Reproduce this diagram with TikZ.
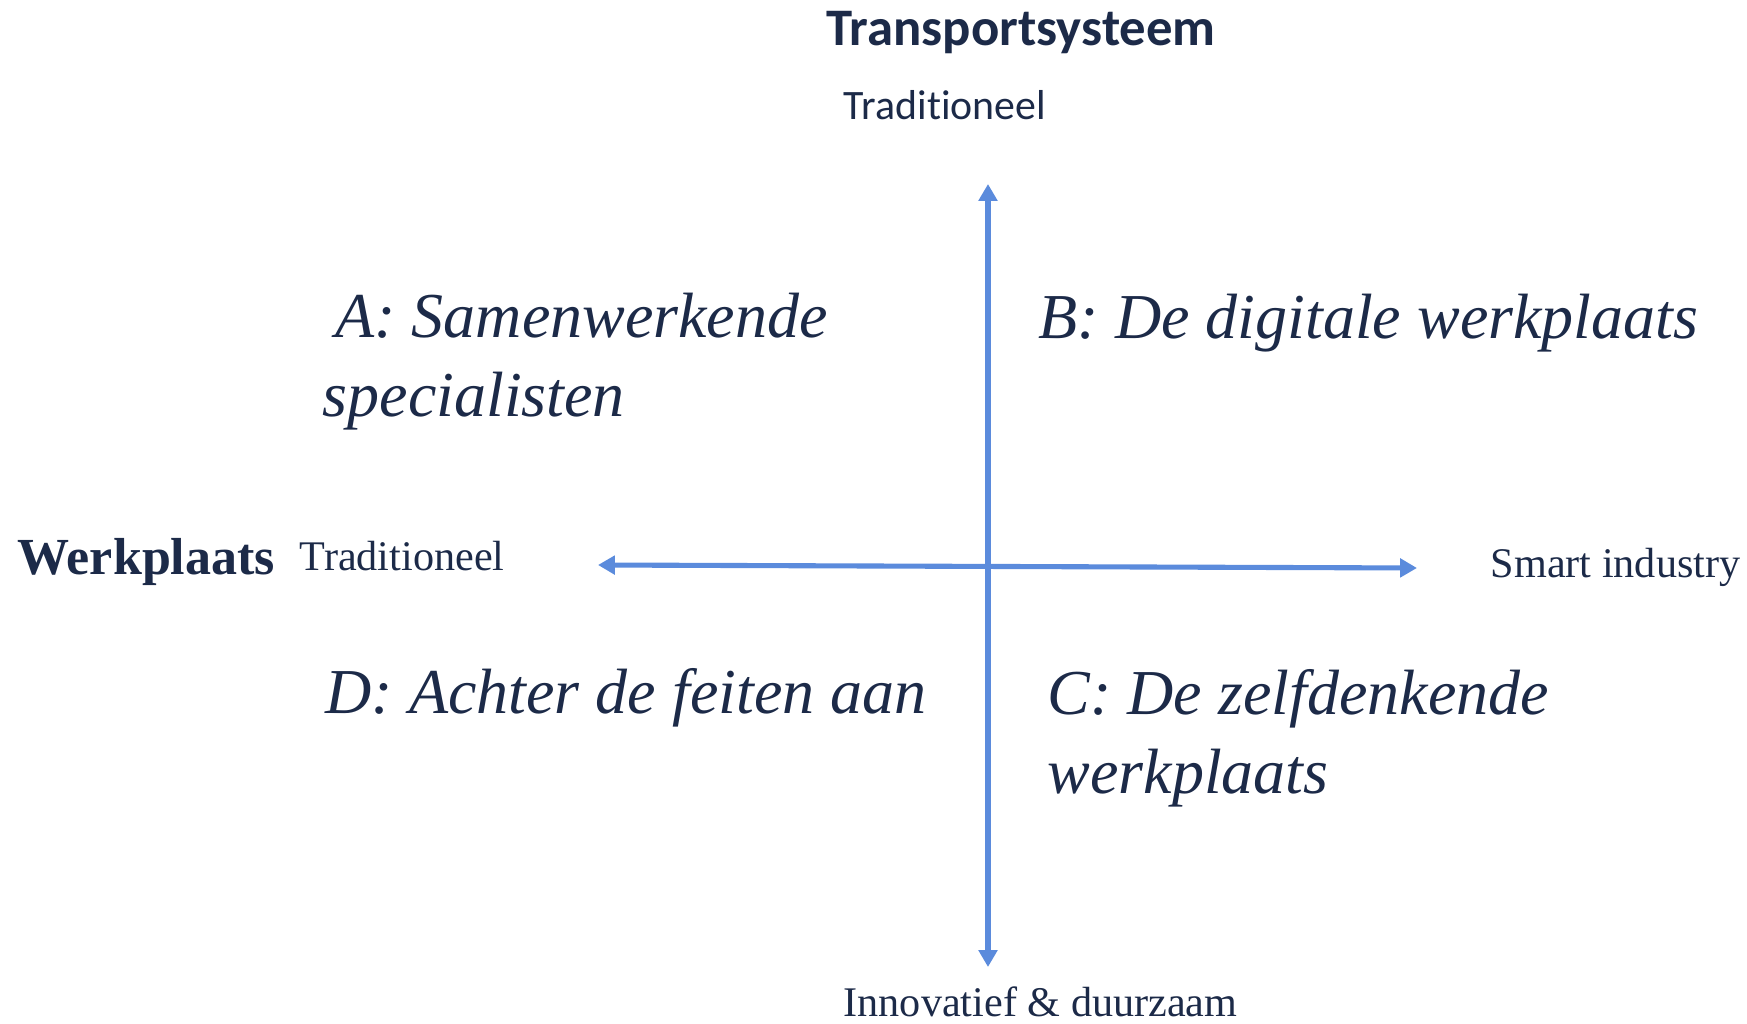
\documentclass[tikz,border=0pt]{standalone}
\usepackage{fontspec}
\setmainfont{Liberation Serif}
\setsansfont{Carlito}[Ligatures=NoCommon]
\usepackage{xcolor}
\usepackage{tikz}
\usetikzlibrary{arrows.meta}
\usetikzlibrary{positioning}
\definecolor{navy}{HTML}{1C2A48}
\definecolor{axisblue}{HTML}{5B8BDC}
\tikzset{
    axislabel/.style = {inner sep=0pt, text=navy, font=\fontsize{12}{14}\selectfont},
    axistitle/.style = {inner sep=0pt, text=navy, font=\bfseries\fontsize{14.8}{17}\selectfont},
    quadrant/.style = {inner sep=0pt, text=navy, align=left, font=\itshape\fontsize{18.2}{22.2}\selectfont},
}

\begin{document}
\begin{tikzpicture}[
	x=0.01cm,
	y=-0.01cm
]
\tikzset{
    axis/.style = {{Triangle[length=4.8pt,width=5.2pt]}-{Triangle[length=4.8pt,width=5.2pt]}, line width=1.45pt, axisblue},
}
\useasboundingbox (0,0) rectangle (1747,1024);
\coordinate (top) at (988,184);
\coordinate (bot) at (988,967);
\coordinate (west) at (598,565);
\coordinate (east) at (1417,568);
%
\draw[axis] (bot) -- (top);
\draw[axis] (west) -- (east);
%
\node[axistitle, font=\sffamily\bfseries\fontsize{15}{18}\selectfont, anchor=base] at (1021,45) (tsys) {Transportsysteem};
\node[axislabel, font=\sffamily\fontsize{11.9}{14}\selectfont, anchor=base] at (945,120) (ttrad) {Traditioneel};
\node[axislabel, anchor=base west] at (843,1016) (tinno) {Innovatief \& duurzaam};
%
\node[axistitle, anchor=base west] at (17,574) (wplaats) {Werkplaats};
\node[axislabel, anchor=base west] at (299,570) (wtrad) {Traditioneel};
\node[axislabel, anchor=base west] at (1490,577) (wsmart) {Smart industry};
%
\node[quadrant, anchor=base west] at (322,416) (qa) {\hspace*{0.2em}A: Samenwerkende\\specialisten};
\node[quadrant, anchor=base west] at (1038,338) (qb) {B: De digitale werkplaats};
\node[quadrant, anchor=base west] at (1047,793) (qc) {C: De zelfdenkende\\werkplaats};
\node[quadrant, anchor=base west] at (325,713) (qd) {D: Achter de feiten aan};
\end{tikzpicture}
\end{document}
